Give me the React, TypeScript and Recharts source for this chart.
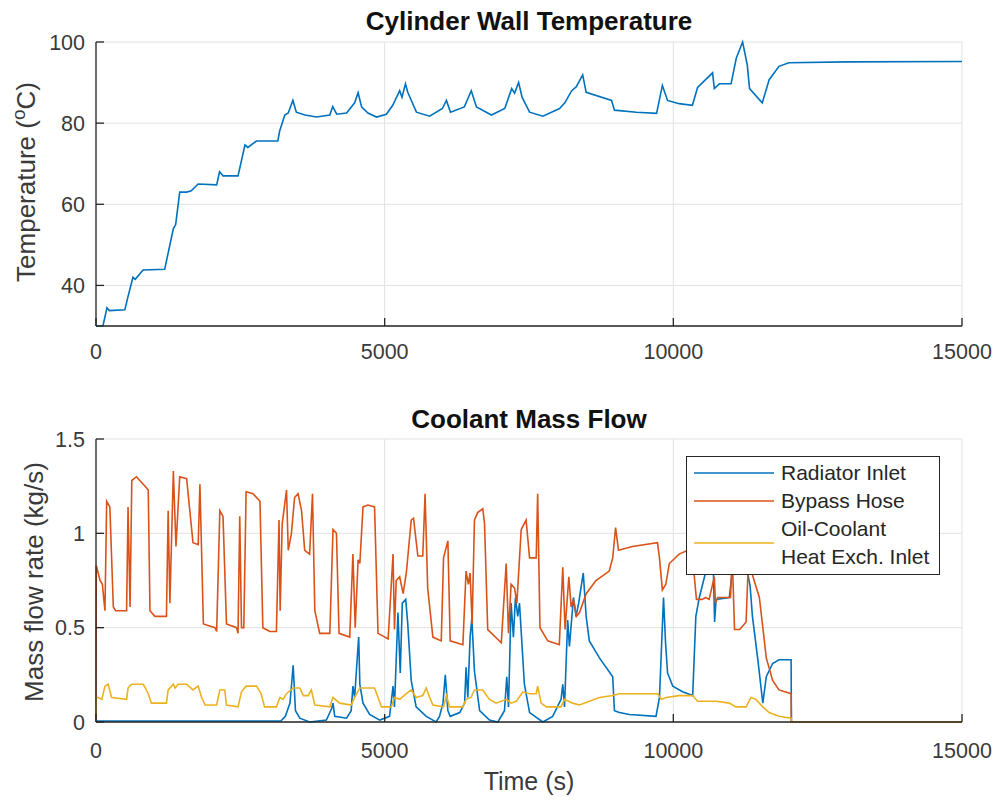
import { LineChart, Line, XAxis, YAxis, CartesianGrid, Legend } from 'recharts'

// time (s) / value pairs
const timeTicks = [0, 5000, 10000, 15000]
const tempTicks = [40, 60, 80, 100]
const flowTicks = [0, 0.5, 1, 1.5]
const legendOrder = ['Radiator Inlet', 'Bypass Hose', 'Oil-Coolant\nHeat Exch. Inlet']

const wallTemp: [number, number][] = [
  [0, 30], [120, 30], [190, 34.5], [230, 33.8], [500, 34], [550, 37], [640, 42], [680, 41.5],
  [815, 43.8], [1190, 44], [1250, 48], [1340, 54], [1380, 55], [1450, 63], [1570, 63], [1650, 63.3],
  [1770, 65], [2090, 64.8], [2140, 68], [2200, 67], [2460, 67], [2580, 74.6], [2630, 74], [2780, 75.6],
  [3150, 75.6], [3180, 78], [3270, 82], [3330, 82.5], [3410, 85.6], [3470, 82.7], [3620, 82], [3820, 81.5],
  [4050, 82], [4100, 84.1], [4170, 82.2], [4340, 82.5], [4480, 85], [4540, 87.5], [4600, 84], [4710, 82.5],
  [4860, 81.5], [5030, 82.2], [5140, 84.4], [5260, 88], [5300, 86.4], [5360, 89.7], [5400, 87.6], [5550, 82.7],
  [5780, 81.7], [6000, 83.6], [6070, 85.6], [6140, 82.7], [6380, 84], [6500, 88], [6590, 84], [6850, 82],
  [7080, 83.6], [7200, 88.5], [7250, 87.4], [7320, 90], [7380, 86.4], [7510, 82.7], [7740, 81.7], [8030, 83.6],
  [8120, 85], [8240, 88], [8320, 89], [8430, 91.9], [8490, 87.6], [8930, 85.6], [8980, 83.2], [9360, 82.7],
  [9710, 82.4], [9810, 89.3], [9900, 85.6], [10100, 84.8], [10330, 84.4], [10420, 88.8], [10680, 92.4], [10710, 88.5],
  [10800, 89.7], [11000, 89.7], [11090, 96], [11200, 100], [11280, 94.4], [11320, 88.5], [11540, 85], [11660, 90.7],
  [11830, 94], [12000, 94.9], [13000, 95.1], [15000, 95.2],
]

const radiatorInlet: [number, number][] = [
  [0, 0.005], [3200, 0.005], [3280, 0.03], [3360, 0.1], [3415, 0.3], [3455, 0.06], [3530, 0.02], [3700, 0],
  [3990, 0.01], [4080, 0.07], [4105, 0.1], [4135, 0.03], [4340, 0.02], [4420, 0.06], [4450, 0.19], [4480, 0.13],
  [4510, 0.27], [4550, 0.45], [4570, 0.2], [4625, 0.1], [4740, 0.04], [4915, 0.01], [5085, 0.03], [5145, 0.19],
  [5170, 0.08], [5230, 0.58], [5270, 0.26], [5305, 0.63], [5365, 0.65], [5400, 0.52], [5460, 0.22], [5545, 0.08],
  [5720, 0.03], [5890, 0], [5950, 0.03], [6010, 0.1], [6050, 0.25], [6095, 0.06], [6135, 0.03], [6300, 0.05],
  [6385, 0.1], [6410, 0.29], [6440, 0.13], [6480, 0.45], [6510, 0.55], [6555, 0.27], [6645, 0.06], [6815, 0.01],
  [6960, 0], [7075, 0.06], [7115, 0.24], [7145, 0.08], [7190, 0.63], [7230, 0.45], [7265, 0.66], [7305, 0.56],
  [7335, 0.63], [7420, 0.2], [7510, 0.05], [7740, 0], [7910, 0.03], [8055, 0.12], [8085, 0.2], [8115, 0.08],
  [8170, 0.54], [8200, 0.4], [8270, 0.66], [8315, 0.56], [8360, 0.63], [8440, 0.79], [8490, 0.56], [8545, 0.43],
  [8720, 0.34], [8950, 0.24], [8980, 0.06], [9065, 0.05], [9240, 0.04], [9700, 0.03], [9760, 0.13], [9830, 0.66],
  [9865, 0.42], [9900, 0.26], [9990, 0.19], [10160, 0.16], [10335, 0.14], [10390, 0.56], [10450, 0.66], [10565, 0.8],
  [10650, 0.85], [10690, 0.85], [10715, 0.53], [10740, 0.65], [10970, 0.66], [11020, 0.8], [11100, 0.9], [11250, 0.85],
  [11330, 0.72], [11370, 0.56], [11460, 0.34], [11550, 0.1], [11610, 0.24], [11720, 0.31], [11830, 0.33], [12040, 0.33],
  [12045, 0], [15000, 0],
]

const bypassHose: [number, number][] = [
  [0, 0], [5, 0.83], [70, 0.75], [110, 0.73], [155, 0.59], [185, 1.17], [240, 1.14], [300, 0.61],
  [340, 0.59], [530, 0.59], [555, 1.14], [590, 0.61], [620, 1.28], [700, 1.3], [850, 1.25], [905, 1.23],
  [935, 0.59], [1020, 0.56], [1220, 0.56], [1250, 1.12], [1280, 0.63], [1340, 1.33], [1385, 0.93], [1450, 1.3],
  [1570, 1.29], [1680, 0.95], [1770, 0.94], [1800, 1.26], [1860, 0.52], [2060, 0.5], [2090, 0.48], [2145, 1.12],
  [2200, 1.09], [2260, 0.52], [2435, 0.5], [2460, 0.47], [2490, 1.09], [2520, 0.5], [2560, 0.5], [2600, 1.22],
  [2720, 1.21], [2840, 1.17], [2890, 0.5], [3010, 0.48], [3125, 0.48], [3170, 1.07], [3190, 0.59], [3225, 1.05],
  [3300, 1.23], [3330, 0.91], [3385, 1.0], [3440, 1.19], [3500, 1.21], [3560, 1.12], [3615, 0.91], [3700, 0.89],
  [3750, 1.21], [3790, 0.59], [3875, 0.47], [4050, 0.47], [4105, 1.02], [4165, 1.0], [4210, 0.47], [4395, 0.45],
  [4450, 0.89], [4490, 0.5], [4540, 0.86], [4570, 0.84], [4625, 1.14], [4710, 1.15], [4825, 1.14], [4885, 0.47],
  [5060, 0.44], [5145, 0.89], [5170, 0.49], [5200, 0.75], [5260, 0.77], [5320, 0.68], [5375, 0.79], [5460, 1.07],
  [5500, 1.08], [5575, 0.88], [5660, 0.88], [5700, 1.21], [5745, 0.71], [5835, 0.45], [5980, 0.43], [6020, 0.87],
  [6095, 0.96], [6135, 0.43], [6355, 0.41], [6410, 0.8], [6450, 0.73], [6480, 0.79], [6515, 0.52], [6555, 1.07],
  [6610, 1.11], [6700, 1.13], [6730, 1.05], [6785, 0.49], [7020, 0.42], [7105, 0.84], [7145, 0.47], [7190, 0.73],
  [7250, 0.71], [7290, 0.63], [7365, 1.02], [7450, 1.07], [7510, 0.87], [7625, 0.87], [7650, 1.21], [7690, 0.5],
  [7825, 0.43], [8025, 0.41], [8085, 0.82], [8125, 0.49], [8190, 0.77], [8230, 0.61], [8270, 0.65], [8320, 0.56],
  [8375, 0.58], [8490, 0.68], [8660, 0.75], [8890, 0.8], [8950, 0.87], [9000, 1.03], [9050, 0.91], [9290, 0.93],
  [9725, 0.95], [9760, 0.87], [9810, 0.7], [9870, 0.73], [9930, 0.84], [10100, 0.89], [10250, 0.91], [10340, 0.85],
  [10400, 0.65], [10500, 0.65], [10560, 0.66], [10620, 0.65], [10710, 0.77], [10730, 0.63], [10770, 0.66], [10990, 0.66],
  [11020, 0.88], [11060, 0.49], [11150, 0.49], [11260, 0.53], [11300, 0.85], [11400, 0.75], [11490, 0.66], [11610, 0.34],
  [11720, 0.22], [11830, 0.17], [12040, 0.15], [12045, 0], [15000, 0],
]

const oilCoolant: [number, number][] = [
  [0, 0], [5, 0.13], [40, 0.13], [100, 0.12], [155, 0.19], [210, 0.2], [270, 0.13], [530, 0.12],
  [555, 0.18], [615, 0.2], [820, 0.2], [905, 0.15], [960, 0.1], [1220, 0.1], [1250, 0.17], [1340, 0.2],
  [1370, 0.18], [1425, 0.2], [1570, 0.2], [1680, 0.17], [1770, 0.19], [1830, 0.13], [1890, 0.09], [2090, 0.09],
  [2145, 0.17], [2230, 0.17], [2260, 0.09], [2460, 0.08], [2520, 0.16], [2600, 0.19], [2780, 0.19], [2860, 0.15],
  [2920, 0.08], [3125, 0.08], [3185, 0.13], [3240, 0.12], [3300, 0.15], [3415, 0.18], [3530, 0.18], [3590, 0.14],
  [3675, 0.14], [3730, 0.17], [3790, 0.09], [4050, 0.08], [4105, 0.13], [4220, 0.1], [4420, 0.09], [4480, 0.13],
  [4570, 0.18], [4825, 0.18], [4885, 0.13], [4945, 0.08], [5115, 0.08], [5170, 0.13], [5260, 0.12], [5375, 0.15],
  [5460, 0.17], [5545, 0.13], [5660, 0.14], [5720, 0.18], [5780, 0.13], [5835, 0.09], [6020, 0.08], [6070, 0.14],
  [6125, 0.08], [6355, 0.08], [6410, 0.12], [6495, 0.13], [6555, 0.17], [6700, 0.17], [6815, 0.12], [6930, 0.1],
  [7105, 0.12], [7190, 0.1], [7280, 0.11], [7395, 0.16], [7510, 0.15], [7625, 0.15], [7650, 0.19], [7710, 0.1],
  [7800, 0.08], [8055, 0.08], [8115, 0.12], [8255, 0.1], [8375, 0.09], [8545, 0.11], [8720, 0.13], [8950, 0.14],
  [9065, 0.15], [9730, 0.15], [9790, 0.12], [9875, 0.13], [10100, 0.14], [10335, 0.14], [10420, 0.11], [10740, 0.11],
  [10970, 0.1], [11080, 0.08], [11260, 0.08], [11345, 0.13], [11430, 0.12], [11550, 0.08], [11660, 0.05], [11830, 0.03],
  [12040, 0.02], [12045, 0], [15000, 0],
]

const FONT = '"Liberation Sans", Arial, Helvetica, sans-serif'
const AXIS = '#262626'
const TEXT = '#3a3a3a'
const GRID = '#e2e2e2'
const TICK = 8

const rows = (pts: [number, number][]) => pts.map(([t, v]) => ({ t, v }))

const tickStyle = { fill: TEXT, fontSize: 21.5, fontFamily: FONT }

function FlowLegend({ payload }: any) {
  // keep the plotting order, recharts sorts entries by name otherwise
  const items = [...(payload || [])].sort(
    (a: any, b: any) => legendOrder.indexOf(a.value) - legendOrder.indexOf(b.value),
  )
  return (
    <div
      style={{
        boxSizing: 'border-box',
        width: 254,
        height: 119,
        border: `1.5px solid ${AXIS}`,
        background: '#fff',
        padding: '2px 0 0 6px',
        fontFamily: FONT,
        fontSize: 21,
        color: AXIS,
      }}
    >
      {items.map((entry: any) => (
        <div key={entry.value} style={{ display: 'flex', alignItems: 'center' }}>
          <svg width={82} height={10} style={{ flex: 'none' }}>
            <line x1={1} y1={5} x2={81} y2={5} stroke={entry.color} strokeWidth={1.6} />
          </svg>
          <div style={{ marginLeft: 6, lineHeight: '28px', whiteSpace: 'pre' }}>{entry.value}</div>
        </div>
      ))}
    </div>
  )
}

export default function App() {
  return (
    <div style={{ position: 'relative', width: 1000, height: 802, background: '#fff' }}>
      <style>{'body{margin:0}'}</style>

      {/* upper subplot */}
      <div style={{ position: 'absolute', left: 0, top: 0 }}>
        <LineChart width={1000} height={380} margin={{ top: 42, right: 38, bottom: 24, left: 36 }}>
          <CartesianGrid stroke={GRID} />
          <Line
            data={rows(wallTemp)}
            dataKey="v"
            type="linear"
            stroke="#0072BD"
            strokeWidth={1.6}
            dot={false}
            activeDot={false}
            isAnimationActive={false}
          />
          <XAxis dataKey="t" type="number" domain={[0, 15000]} ticks={timeTicks} height={30}
            stroke={AXIS} strokeWidth={1.3} tickSize={-TICK} tickMargin={TICK + 18} tick={tickStyle} />
          <XAxis xAxisId="top" orientation="top" type="number" domain={[0, 15000]} ticks={timeTicks}
            height={0} stroke={AXIS} strokeWidth={1.3} tickSize={-TICK} tick={false} />
          <YAxis type="number" domain={[30, 100]} ticks={tempTicks} width={60}
            stroke={AXIS} strokeWidth={1.3} tickSize={-TICK} tickMargin={TICK + 11} tick={tickStyle} />
          <YAxis yAxisId="right" orientation="right" type="number" domain={[30, 100]} ticks={tempTicks}
            width={0} stroke={AXIS} strokeWidth={1.3} tickSize={-TICK} tick={false} />
        </LineChart>
      </div>

      {/* lower subplot */}
      <div style={{ position: 'absolute', left: 0, top: 400 }}>
        <LineChart width={1000} height={402} margin={{ top: 39, right: 38, bottom: 30, left: 36 }}>
          <CartesianGrid stroke={GRID} />
          <Line data={rows(radiatorInlet)} dataKey="v" name={legendOrder[0]} type="linear" stroke="#0072BD"
            strokeWidth={1.6} dot={false} activeDot={false} isAnimationActive={false} />
          <Line data={rows(bypassHose)} dataKey="v" name={legendOrder[1]} type="linear" stroke="#D95319"
            strokeWidth={1.6} dot={false} activeDot={false} isAnimationActive={false} />
          <Line data={rows(oilCoolant)} dataKey="v" name={legendOrder[2]} type="linear" stroke="#EDB120"
            strokeWidth={1.6} dot={false} activeDot={false} isAnimationActive={false} />
          <XAxis dataKey="t" type="number" domain={[0, 15000]} ticks={timeTicks} height={50}
            stroke={AXIS} strokeWidth={1.3} tickSize={-TICK} tickMargin={TICK + 21} tick={tickStyle} />
          <XAxis xAxisId="top" orientation="top" type="number" domain={[0, 15000]} ticks={timeTicks}
            height={0} stroke={AXIS} strokeWidth={1.3} tickSize={-TICK} tick={false} />
          <YAxis type="number" domain={[0, 1.5]} ticks={flowTicks} width={60}
            stroke={AXIS} strokeWidth={1.3} tickSize={-TICK} tickMargin={TICK + 11} tick={tickStyle} />
          <YAxis yAxisId="right" orientation="right" type="number" domain={[0, 1.5]} ticks={flowTicks}
            width={0} stroke={AXIS} strokeWidth={1.3} tickSize={-TICK} tick={false} />
          <Legend
            layout="horizontal"
            verticalAlign="middle"
            align="center"
            content={<FlowLegend />}
            wrapperStyle={{ left: 686, top: 56, width: 254, height: 119 }}
          />
        </LineChart>
      </div>

      {/* titles and axis labels */}
      <svg width={1000} height={802} style={{ position: 'absolute', left: 0, top: 0, pointerEvents: 'none' }}
        fontFamily={FONT}>
        <text x={529} y={30} textAnchor="middle" fontSize={26} fontWeight="bold" fill="#111">
          Cylinder Wall Temperature
        </text>
        <text x={529} y={428} textAnchor="middle" fontSize={26} fontWeight="bold" fill="#111">
          Coolant Mass Flow
        </text>
        <text x={35} y={182} textAnchor="middle" fontSize={26} fill={TEXT} transform="rotate(-90 35 182)">
          <tspan>Temperature (</tspan>
          <tspan dy={-10} fontSize={19}>o</tspan>
          <tspan dy={10}>C)</tspan>
        </text>
        <text x={43} y={582} textAnchor="middle" fontSize={26} fill={TEXT} transform="rotate(-90 43 582)">
          Mass flow rate (kg/s)
        </text>
        <text x={529} y={790} textAnchor="middle" fontSize={25} fill={TEXT}>
          Time (s)
        </text>
      </svg>
    </div>
  )
}
